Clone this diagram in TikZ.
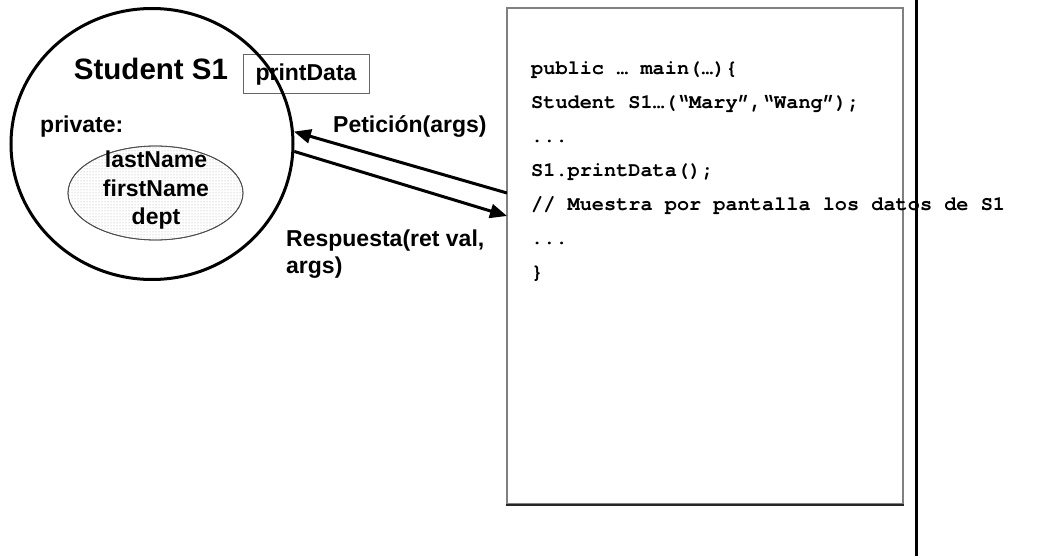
\documentclass[tikz,border=0pt]{standalone}
\usepackage{fontspec}
\setmainfont{Liberation Sans}
\newfontfamily\codefont{TeX Gyre Cursor}
\usetikzlibrary{shapes.geometric,arrows.meta,patterns}

\tikzset{
  lbl/.style={font=\bfseries\fontsize{23}{27}\selectfont, inner sep=0pt},
  codeln/.style={font=\codefont\bfseries\fontsize{20.25}{24}\selectfont, inner sep=0pt, anchor=base west},
  msg/.style={line width=3pt, -{Triangle[length=17pt,width=14pt]}},
}

\begin{document}
\begin{tikzpicture}[x=1pt,y=-1pt]
\useasboundingbox (0,0) rectangle (1050,556);

% code listing panel
\node[draw=black!50, line width=1.5pt, minimum width=396pt, minimum height=496pt,
      inner sep=0pt] (code) at (705,256) {};
\draw[black!85, line width=1.5pt] (code.south west) -- (code.south east);

% partition line
\coordinate (vtop) at (916,0);
\coordinate (vbot) at (916,556);
\draw[line width=3pt] (vtop) -- (vbot);

% method box (drawn beneath the object outline)
\node[draw=black!60, line width=1pt, minimum width=126pt, minimum height=39pt,
      inner sep=0pt, lbl] (meth) at (306,74.5) {printData};

% private data
\node[ellipse, draw=black!70, line width=0.8pt, minimum width=175pt, minimum height=94pt,
      fill=white, pattern=dots, pattern color=black!35] (priv) at (155.5,193) {};
\node[ellipse, draw=black!70, line width=0.8pt, minimum width=175pt, minimum height=94pt] at (priv) {};

% object outline
\node[ellipse, draw, line width=3pt, minimum width=282pt, minimum height=271pt,
      inner sep=0pt] (obj) at (152,144) {};

\node[lbl, anchor=base] (name) at (151,80) {\fontsize{29.5}{34}\selectfont Student S1};
\node[lbl, anchor=base west] (pvt) at (40,133) {private:};
\node[lbl, anchor=base] (f1) at (156,168) {lastName};
\node[lbl, anchor=base] (f2) at (156,196.5) {firstName};
\node[lbl, anchor=base] (f3) at (156,225) {dept};

% messages
\coordinate (reqS) at (507,193);
\coordinate (resE) at (507,216);
\draw[msg] (reqS) -- (obj.5.5);
\draw[msg] (obj.-3.8) -- (resE);
\node[lbl, anchor=base west] (req) at (333,133) {Petición(args)};
\node[lbl, anchor=base west] (res1) at (286,247) {Respuesta(ret val,};
\node[lbl, anchor=base west] (res2) at (286,274) {args)};

% listing
\node[codeln] (c1) at (531,75)  {public … main(…)\{};
\node[codeln] (c2) at (531,109) {Student S1…(“Mary”,“Wang”);};
\node[codeln] (c3) at (531,143) {...};
\node[codeln] (c4) at (531,177) {S1.printData();};
\node[codeln] (c5) at (531,211) {// Muestra por pantalla los datos de S1};
\node[codeln] (c6) at (531,245) {...};
\node[codeln] (c7) at (531,279) {\}};
\end{tikzpicture}
\end{document}
